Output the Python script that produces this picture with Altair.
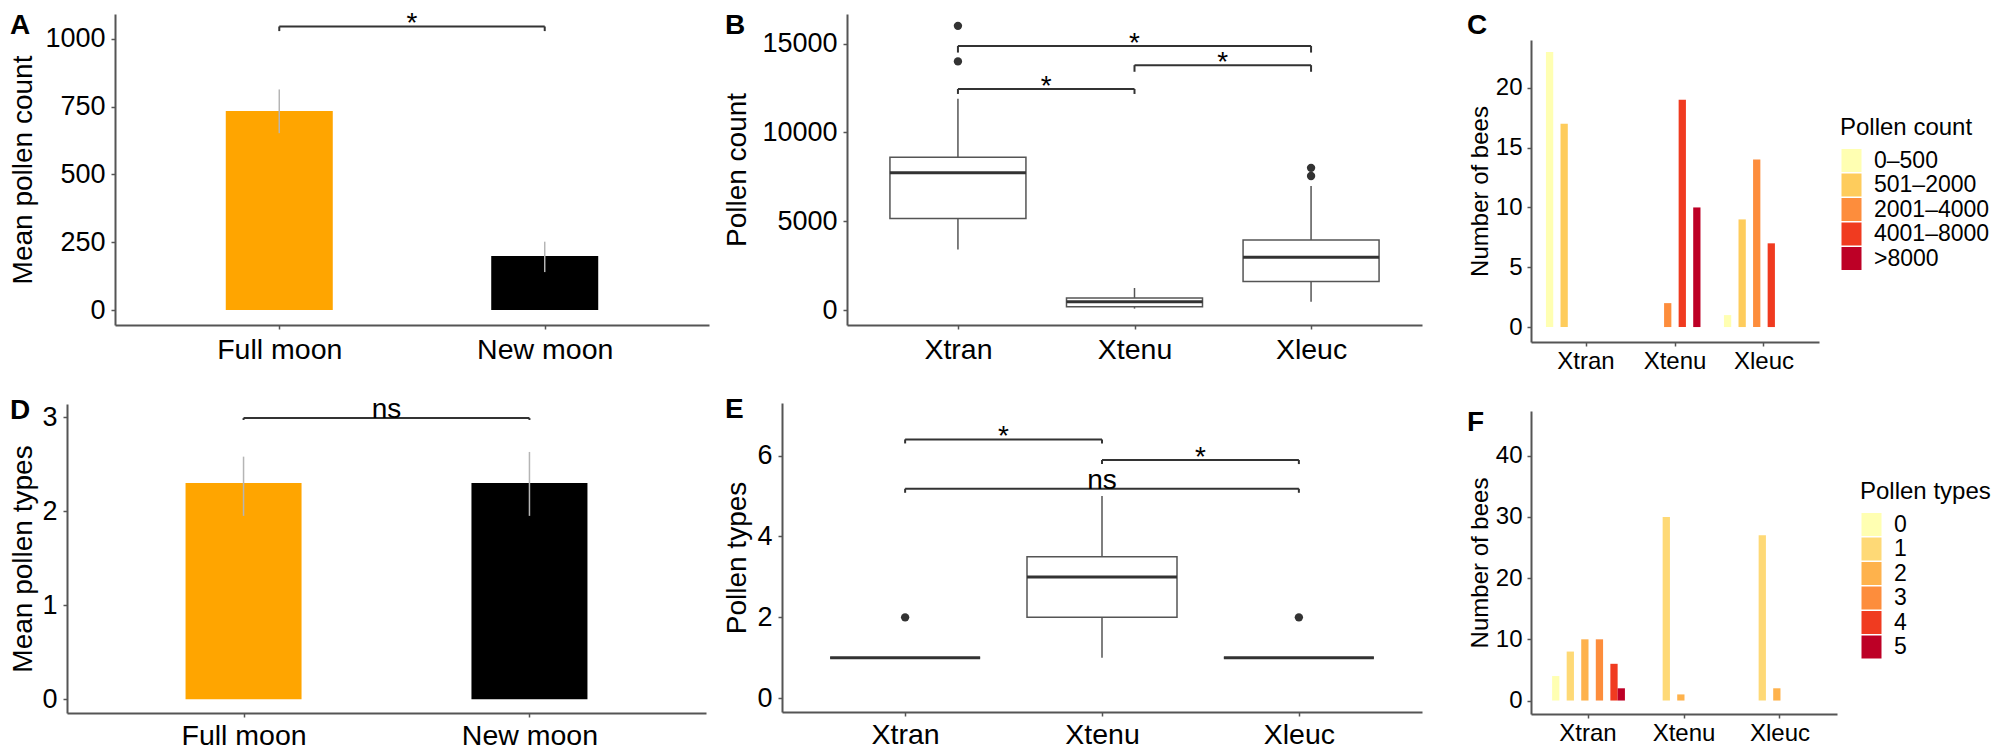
import json
import altair as alt
import pandas as pd

FONT = "Liberation Sans"
AXIS_GRAY = "#555555"
LINE_DARK = "#333333"

# ---------------- data ----------------
panel_letters = ["A", "B", "C", "D", "E", "F"]

moon_phases = ["Full moon", "New moon"]
moon_colors = ["#FFA500", "#000000"]

# A: mean pollen count +- error
mean_pollen_count = [734, 199]
count_err_low = [652, 140]
count_err_high = [813, 252]

# D: mean pollen types +- error
mean_pollen_types = [2.30, 2.30]
types_err_low = [1.95, 1.95]
types_err_high = [2.58, 2.63]

species = ["Xtran", "Xtenu", "Xleuc"]

# B: pollen count box plots
count_whisk_low = [3410, 90, 470]
count_q1 = [5160, 190, 1620]
count_median = [7730, 470, 2980]
count_q3 = [8610, 690, 3950]
count_whisk_high = [11900, 1250, 6990]
count_outlier_species = ["Xtran", "Xtran", "Xleuc", "Xleuc"]
count_outlier_values = [14000, 16000, 7550, 8010]

# E: pollen types box plots
types_whisk_low = [1, 1, 1]
types_q1 = [1, 2, 1]
types_median = [1, 3, 1]
types_q3 = [1, 3.5, 1]
types_whisk_high = [1, 5, 1]
types_outlier_species = ["Xtran", "Xleuc"]
types_outlier_values = [2, 2]

# C: number of bees per pollen count class
count_classes = ["0–500", "501–2000", "2001–4000", "4001–8000", ">8000"]
count_class_colors = ["#FFFFB2", "#FECC5C", "#FD8D3C", "#F03B20", "#BD0026"]
bees_count_xtran = [23, 17, 0, 0, 0]
bees_count_xtenu = [0, 0, 2, 19, 10]
bees_count_xleuc = [1, 9, 14, 7, 0]

# F: number of bees per pollen types class
type_classes = ["0", "1", "2", "3", "4", "5"]
type_class_colors = ["#FFFFB2", "#FED976", "#FEB24C", "#FD8D3C", "#F03B20", "#BD0026"]
bees_types_xtran = [4, 8, 10, 10, 6, 2]
bees_types_xtenu = [0, 30, 1, 0, 0, 0]
bees_types_xleuc = [0, 27, 2, 0, 0, 0]

# significance brackets
sigA_from, sigA_to, sigA_y, sigA_tip, sigA_label = ["Full moon"], ["New moon"], [1045], [1028], ["*"]
sigD_from, sigD_to, sigD_y, sigD_tip, sigD_label = ["Full moon"], ["New moon"], [2.99], [2.97], ["ns"]
sigB_from = ["Xtran", "Xtenu", "Xtran"]
sigB_to = ["Xtenu", "Xleuc", "Xleuc"]
sigB_y = [12447, 13789, 14870]
sigB_tip = [12168, 13416, 14497]
sigB_label = ["*", "*", "*"]
sigE_from = ["Xtran", "Xtenu", "Xtran"]
sigE_to = ["Xtenu", "Xleuc", "Xleuc"]
sigE_y = [6.40, 5.89, 5.18]
sigE_tip = [6.30, 5.79, 5.08]
sigE_label = ["*", "*", "ns"]


# ---------------- helpers ----------------
def make_x(cats, field, label_size, label_pad):
    n = len(cats)
    return alt.X(
        f"{field}:Q",
        scale=alt.Scale(domain=[0.4, n + 0.6], nice=False, zero=False),
        axis=alt.Axis(
            values=list(range(1, n + 1)),
            labelExpr=json.dumps(cats) + "[datum.value - 1]",
            title=None,
            labelFontSize=label_size,
            labelPadding=label_pad,
        ),
    )


def make_y_factory(domain, ticks, title, label_size, title_size, title_pad, label_pad):
    scale = alt.Scale(domain=domain, nice=False, zero=False)
    axis = alt.Axis(
        values=ticks,
        format="d",
        title=title,
        labelFontSize=label_size,
        titleFontSize=title_size,
        titlePadding=title_pad,
        labelPadding=label_pad,
    )

    def f(field):
        return alt.Y(f"{field}:Q", scale=scale, axis=axis)

    return f


def sig_layers(cats, froms, tos, ys, tips, labels, X, Y):
    rows, tip_rows = [], []
    for a, b, y, t, lab in zip(froms, tos, ys, tips, labels):
        i, j = cats.index(a) + 1, cats.index(b) + 1
        rows.append({"x1": i, "x2": j, "xm": (i + j) / 2, "y": y, "label": lab})
        tip_rows.append({"x": i, "y": y, "tip": t})
        tip_rows.append({"x": j, "y": y, "tip": t})
    bdf = pd.DataFrame(rows)
    tdf = pd.DataFrame(tip_rows)
    line = alt.Chart(bdf).mark_rule(color=LINE_DARK, strokeWidth=2).encode(
        x=X("x1"), x2="x2:Q", y=Y("y"))
    tick = alt.Chart(tdf).mark_rule(color=LINE_DARK, strokeWidth=2).encode(
        x=X("x"), y=Y("tip"), y2="y:Q")
    stars = alt.Chart(bdf).transform_filter(alt.datum.label == "*").mark_text(
        fontSize=28, baseline="alphabetic", dy=6, color="black", font=FONT).encode(
        x=X("xm"), y=Y("y"), text="label:N")
    ns = alt.Chart(bdf).transform_filter(alt.datum.label == "ns").mark_text(
        fontSize=28, baseline="alphabetic", dy=0, color="black", font=FONT).encode(
        x=X("xm"), y=Y("y"), text="label:N")
    return [line, tick, stars, ns]


def letter_layer(letter, dx, dy):
    return alt.Chart(pd.DataFrame({"letter": [letter]})).mark_text(
        fontSize=28, fontWeight="bold", align="left", baseline="top",
        color="black", font=FONT).encode(
        x=alt.value(dx), y=alt.value(dy), text="letter:N")


def spacer(h=1):
    return alt.Chart(pd.DataFrame({"s": [0]})).mark_rule(opacity=0, strokeWidth=0).encode(
        x=alt.value(0), x2=alt.value(1), y=alt.value(0)).properties(width=1, height=h)


def moon_panel(means, lows, highs, ydomain, yticks, ytitle, tpad, xpad, bar_w, w, h,
               letter, ldx, ldy, sig):
    df = pd.DataFrame({"pos": [1, 2], "phase": moon_phases, "mean": means,
                       "low": lows, "high": highs})
    Xf = lambda f: make_x(moon_phases, f, 28.5, xpad)
    Y = make_y_factory(ydomain, yticks, ytitle, 27, 28, tpad, 6)
    bars = alt.Chart(df).mark_bar(width=bar_w).encode(
        x=Xf("pos"), y=Y("mean"),
        color=alt.Color("phase:N", scale=alt.Scale(domain=moon_phases, range=moon_colors),
                        legend=None))
    err = alt.Chart(df).mark_rule(color="#b5b5b5", strokeWidth=1.5).encode(
        x=Xf("pos"), y=Y("low"), y2="high:Q")
    layers = [bars, err] + sig_layers(moon_phases, *sig, Xf, Y) + [letter_layer(letter, ldx, ldy)]
    return alt.layer(*layers).properties(width=w, height=h)


def box_panel(lo, q1, med, q3, hi, out_sp, out_val, ydomain, yticks, ytitle, tpad, xpad,
              box_w, w, h, letter, ldx, ldy, sig):
    df = pd.DataFrame({"pos": [1, 2, 3], "lo": lo, "q1": q1, "med": med, "q3": q3, "hi": hi})
    odf = pd.DataFrame({"pos": [species.index(s) + 1 for s in out_sp], "val": out_val})
    Xf = lambda f: make_x(species, f, 28.5, xpad)
    Y = make_y_factory(ydomain, yticks, ytitle, 27, 28, tpad, 6)
    wl = alt.Chart(df).mark_rule(color=AXIS_GRAY, strokeWidth=1.5).encode(
        x=Xf("pos"), y=Y("lo"), y2="q1:Q")
    wh = alt.Chart(df).mark_rule(color=AXIS_GRAY, strokeWidth=1.5).encode(
        x=Xf("pos"), y=Y("q3"), y2="hi:Q")
    box = alt.Chart(df).mark_bar(width=box_w, fill="white", stroke=AXIS_GRAY,
                                 strokeWidth=1.5).encode(x=Xf("pos"), y=Y("q1"), y2="q3:Q")
    medl = alt.Chart(df).mark_tick(orient="horizontal", size=box_w, thickness=3,
                                   color=LINE_DARK, opacity=1).encode(x=Xf("pos"), y=Y("med"))
    outl = alt.Chart(odf).mark_circle(size=70, color=LINE_DARK, opacity=1).encode(
        x=Xf("pos"), y=Y("val"))
    layers = [wl, wh, box, medl, outl] + sig_layers(species, *sig, Xf, Y) + \
        [letter_layer(letter, ldx, ldy)]
    return alt.layer(*layers).properties(width=w, height=h)


def dist_panel(classes, colors, series, ydomain, yticks, pad_outer, legend_title,
               lx, ly, w, h, letter=None, ldx=0, ldy=0):
    rows = []
    for sp, vals in zip(species, series):
        for c, v in zip(classes, vals):
            rows.append({"species": sp, "cls": c, "n": v})
    df = pd.DataFrame(rows)
    bars = alt.Chart(df).mark_bar().encode(
        x=alt.X("species:N", sort=species,
                scale=alt.Scale(paddingInner=0.1, paddingOuter=pad_outer),
                axis=alt.Axis(title=None, labelAngle=0, labelFontSize=24, labelPadding=3)),
        xOffset=alt.XOffset("cls:N", sort=classes,
                            scale=alt.Scale(paddingInner=0, paddingOuter=0)),
        y=alt.Y("n:Q", scale=alt.Scale(domain=ydomain, nice=False, zero=False),
                axis=alt.Axis(values=yticks, format="d", title="Number of bees",
                              labelFontSize=24, titleFontSize=24, titlePadding=3,
                              labelPadding=5)),
        color=alt.Color("cls:N", sort=classes,
                        scale=alt.Scale(domain=classes, range=colors),
                        legend=alt.Legend(
                            title=legend_title, orient="none", legendX=lx, legendY=ly,
                            symbolType="M-0.87,-1H0.87V1H-0.87Z", symbolSize=529,
                            symbolStrokeWidth=0, symbolOpacity=1, rowPadding=0.5,
                            labelFontSize=23, titleFontSize=24, titleFontWeight="normal",
                            titlePadding=9, labelOffset=11, padding=0,
                            titleColor="black", labelColor="black",
                            labelFont=FONT, titleFont=FONT)),
    )
    layers = [bars]
    if letter is not None:
        layers.append(letter_layer(letter, ldx, ldy))
    return alt.layer(*layers).properties(width=w, height=h)


# ---------------- panels ----------------
pA = moon_panel(mean_pollen_count, count_err_low, count_err_high, [-55, 1091],
                [0, 250, 500, 750, 1000], "Mean pollen count", 7, 6, 107, 594, 311,
                panel_letters[0], -105, -2,
                (sigA_from, sigA_to, sigA_y, sigA_tip, sigA_label))
pD = moon_panel(mean_pollen_types, types_err_low, types_err_high, [-0.147, 3.14],
                [0, 1, 2, 3], "Mean pollen types", 4, 4, 116, 639, 309,
                panel_letters[3], -57, -7,
                (sigD_from, sigD_to, sigD_y, sigD_tip, sigD_label))
pB = box_panel(count_whisk_low, count_q1, count_median, count_q3, count_whisk_high,
               count_outlier_species, count_outlier_values, [-833, 16667],
               [0, 5000, 10000, 15000], "Pollen count", 10, 6, 136, 575, 311,
               panel_letters[1], -122, -2,
               (sigB_from, sigB_to, sigB_y, sigB_tip, sigB_label))
pE = box_panel(types_whisk_low, types_q1, types_median, types_q3, types_whisk_high,
               types_outlier_species, types_outlier_values, [-0.34, 7.3],
               [0, 2, 4, 6], "Pollen types", 5, 4, 150, 640, 309,
               panel_letters[4], -57, -7,
               (sigE_from, sigE_to, sigE_y, sigE_tip, sigE_label))
pC = dist_panel(count_classes, count_class_colors,
                [bees_count_xtran, bees_count_xtenu, bees_count_xleuc],
                [-1.25, 24], [0, 5, 10, 15, 20], 0.168, "Pollen count",
                309, 76, 288, 302)
pF = dist_panel(type_classes, type_class_colors,
                [bees_types_xtran, bees_types_xtenu, bees_types_xleuc],
                [-2.2, 47.3], [0, 10, 20, 30, 40], 0.144, "Pollen types",
                329, 69, 306, 303, panel_letters[5], -64, -2)

# spacer that carries the "C" letter and pushes panel C down
spC = alt.layer(spacer(15), letter_layer(panel_letters[2], -64, -2)).properties(width=1, height=15)

rowA = alt.hconcat(spacer(), pA, spacing=0).resolve_scale(color="independent")
rowD = alt.hconcat(spacer(), pD, spacing=0).resolve_scale(color="independent")
rowB = alt.hconcat(spacer(), pB, spacing=0).resolve_scale(color="independent")
rowE = alt.hconcat(spacer(), pE, spacing=0).resolve_scale(color="independent")
blockC = alt.vconcat(spC, pC, spacing=0).resolve_scale(color="independent")

col1 = alt.vconcat(rowA, rowD, spacing=32).resolve_scale(color="independent")
col2 = alt.vconcat(rowB, rowE, spacing=32).resolve_scale(color="independent")
col3 = alt.vconcat(blockC, pF, spacing=36).resolve_scale(color="independent")
left = alt.hconcat(col1, col2, spacing=13).resolve_scale(color="independent")
chart = alt.hconcat(left, col3, spacing=45).resolve_scale(color="independent").properties(
    padding={"left": 0, "top": 2, "right": 0, "bottom": 0}
).configure(font=FONT).configure_axis(
    domainColor=AXIS_GRAY, domainWidth=2, tickColor=AXIS_GRAY, tickWidth=1.5, tickSize=4,
    labelColor="black", titleColor="black", labelFont=FONT, titleFont=FONT,
    titleFontWeight="normal", grid=False,
).configure_view(strokeWidth=0)

chart.save("out.html", embed_options={"renderer": "svg", "actions": False})
